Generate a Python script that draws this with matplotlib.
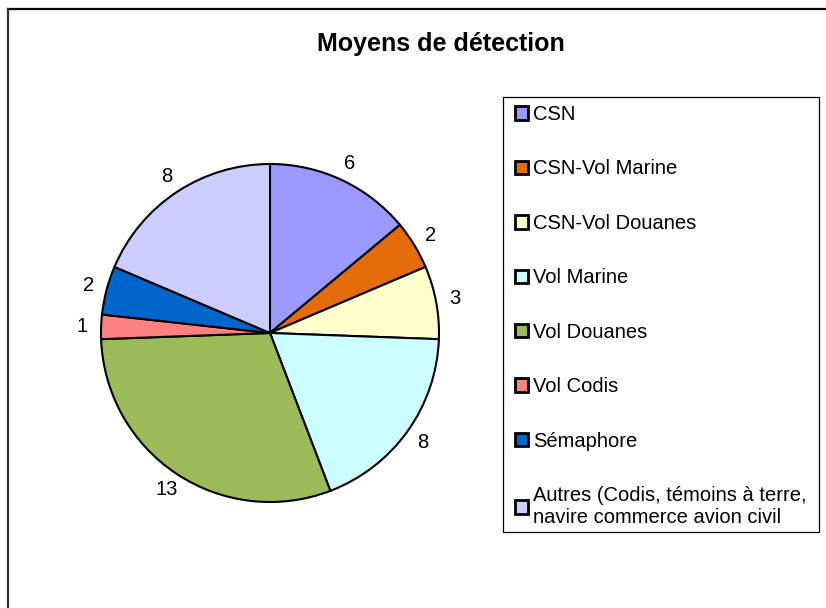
import matplotlib
matplotlib.use("Agg")
import matplotlib.pyplot as plt
from matplotlib.lines import Line2D
from matplotlib.patches import Rectangle

plt.rcParams['font.family'] = ['Liberation Sans', 'DejaVu Sans']

title = "Moyens de détection"
categories = ["CSN", "CSN-Vol Marine", "CSN-Vol Douanes", "Vol Marine",
              "Vol Douanes", "Vol Codis", "Sémaphore",
              "Autres (Codis, témoins à terre,\nnavire commerce avion civil"]
values = [6, 2, 3, 8, 13, 1, 2, 8]
colors = ["#9999FF", "#E46C0A", "#FFFFCC", "#CCFFFF",
          "#9BBB59", "#FF8080", "#0066CC", "#CCCCFF"]

W, H = 826, 608
fig = plt.figure(figsize=(W / 100, H / 100), dpi=100)

# outer frame (top and left edges visible)
fig.add_artist(Line2D([8 / W, 1.0], [1 - 9 / H, 1 - 9 / H], color="black", lw=1.6,
                      transform=fig.transFigure))
fig.add_artist(Line2D([8 / W, 8 / W], [1 - 9 / H, 0.0], color="#333333", lw=1.6,
                      transform=fig.transFigure))

cx, cy, r = 270, 333, 169
ax = fig.add_axes([(cx - r) / W, (H - cy - r) / H, 2 * r / W, 2 * r / H])
wedges, texts = ax.pie(values, colors=colors, startangle=90, counterclock=False,
                       labels=[str(v) for v in values], labeldistance=1.11,
                       wedgeprops=dict(edgecolor="black", linewidth=1.5),
                       textprops=dict(fontsize=14.5, color="black"))
for t in texts:
    t.set_ha("center")
    t.set_va("center")
ax.set_xlim(-1, 1)
ax.set_ylim(-1, 1)
ax.set_aspect("equal")
ax.axis("off")

fig.text(441 / W, 1 - 44 / H, title, ha="center", va="center",
         fontsize=18, fontweight="bold")

# legend frame
fig.add_artist(Rectangle((503 / W, 1 - 532 / H), 316 / W, 435 / H,
                         transform=fig.transFigure, facecolor="white",
                         edgecolor="black", linewidth=0.9, zorder=0.5))

leg = fig.legend(wedges, categories, loc="upper left",
                 bbox_to_anchor=(515 / W, 1 - 105 / H), bbox_transform=fig.transFigure,
                 fontsize=14.5, frameon=False,
                 handlelength=0.65, handleheight=0.65,
                 handletextpad=0.25, labelspacing=1.76, borderpad=0,
                 borderaxespad=0)
for h in leg.legend_handles:
    h.set_linewidth(2)

fig.savefig("out.png", dpi=100, facecolor="white")
